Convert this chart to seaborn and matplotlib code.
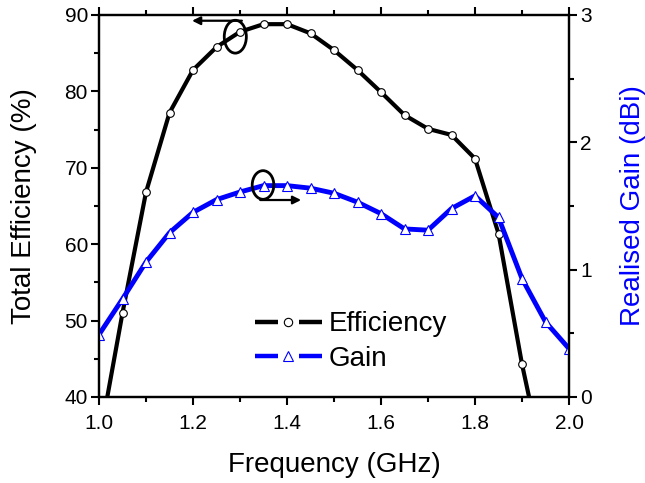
import matplotlib
matplotlib.use("Agg")
import matplotlib.pyplot as plt
from matplotlib.patches import Ellipse
from matplotlib.lines import Line2D
from matplotlib.legend_handler import HandlerBase
from matplotlib.ticker import MultipleLocator
import seaborn as sns
import pandas as pd

freq_eff = [1.00, 1.05, 1.10, 1.15, 1.20, 1.25, 1.30, 1.35, 1.40, 1.45, 1.50,
            1.55, 1.60, 1.65, 1.70, 1.75, 1.80, 1.85, 1.90, 1.95]
efficiency = [34.0, 51.0, 66.8, 77.2, 82.8, 85.8, 87.8, 88.8, 88.8, 87.6, 85.4,
              82.8, 79.9, 76.9, 75.1, 74.3, 71.2, 61.4, 44.3, 30.0]

freq_gain = [1.00, 1.05, 1.10, 1.15, 1.20, 1.25, 1.30, 1.35, 1.40, 1.45, 1.50,
             1.55, 1.60, 1.65, 1.70, 1.75, 1.80, 1.85, 1.90, 1.95, 2.00]
gain = [0.49, 0.77, 1.06, 1.29, 1.45, 1.55, 1.61, 1.66, 1.66, 1.64, 1.60,
        1.53, 1.44, 1.32, 1.31, 1.48, 1.58, 1.41, 0.93, 0.59, 0.38]

x_ticks = [1.0, 1.2, 1.4, 1.6, 1.8, 2.0]
eff_ticks = [40, 50, 60, 70, 80, 90]
gain_ticks = [0, 1, 2, 3]

df_eff = pd.DataFrame({"Frequency": freq_eff, "Efficiency": efficiency})
df_gain = pd.DataFrame({"Frequency": freq_gain, "Gain": gain})

BLUE = "#0000ff"

sns.set_style("ticks")
plt.rcParams["font.family"] = ["Liberation Sans", "DejaVu Sans"]
plt.rcParams["axes.linewidth"] = 1.6
plt.rcParams["axes.edgecolor"] = "black"
plt.rcParams["text.color"] = "black"
plt.rcParams["axes.labelcolor"] = "black"
plt.rcParams["xtick.color"] = "black"
plt.rcParams["ytick.color"] = "black"

fig = plt.figure(figsize=(6.45, 4.83), dpi=100)
ax = fig.add_axes([99 / 645, 1 - 397 / 483, 470 / 645, 382 / 483])
ax2 = ax.twinx()

sns.lineplot(data=df_eff, x="Frequency", y="Efficiency", ax=ax, color="black",
             linewidth=3.0, marker="o", markersize=5.5, markerfacecolor="white",
             markeredgecolor="black", markeredgewidth=0.8, legend=False)
sns.lineplot(data=df_gain, x="Frequency", y="Gain", ax=ax2, color=BLUE,
             linewidth=3.5, marker="^", markersize=7, markerfacecolor="white",
             markeredgecolor=BLUE, markeredgewidth=0.8, legend=False)

ax.set_xlim(1.0, 2.0)
ax.set_ylim(40, 90)
ax2.set_ylim(0, 3)
ax.set_xticks(x_ticks)
ax.set_xticklabels([f"{v:.1f}" for v in x_ticks])
ax.set_yticks(eff_ticks)
ax2.set_yticks(gain_ticks)
ax.xaxis.set_minor_locator(MultipleLocator(0.1))
ax.yaxis.set_minor_locator(MultipleLocator(5))
ax2.yaxis.set_minor_locator(MultipleLocator(0.5))

for a in (ax, ax2):
    for s in a.spines.values():
        s.set_visible(True)
        s.set_linewidth(1.6)
        s.set_edgecolor("black")
ax.tick_params(axis="both", which="major", direction="out", length=6, width=1.5,
               labelsize=15, pad=2)
ax.tick_params(axis="x", which="major", pad=6)
ax.tick_params(axis="both", which="minor", direction="out", length=3.5, width=1.5)
ax.tick_params(axis="x", which="both", top=True, labeltop=False)
ax.tick_params(axis="y", which="both", right=False)
ax2.tick_params(axis="y", which="major", direction="out", length=6, width=1.5,
                labelsize=15, pad=2)
ax2.tick_params(axis="y", which="minor", direction="out", length=3.5, width=1.5)

ax.set_xlabel("Frequency (GHz)", fontsize=20, labelpad=14)
ax.set_ylabel("Total Efficiency (%)", fontsize=20, labelpad=20)
ax2.set_ylabel("Realised Gain (dBi)", fontsize=20, color=BLUE, labelpad=20)

# annotation: efficiency -> left axis
ax.add_patch(Ellipse((1.290, 87.16), 0.047, 4.3, fill=False, edgecolor="black",
                     linewidth=2.0, zorder=5))
ax.annotate("", xy=(1.198, 89.25), xytext=(1.304, 89.25),
            arrowprops=dict(arrowstyle="-|>", color="black", lw=1.6,
                            mutation_scale=12, shrinkA=0, shrinkB=0))
# annotation: gain -> right axis
ax2.add_patch(Ellipse((1.349, 1.665), 0.046, 0.225, fill=False, edgecolor="black",
                      linewidth=2.0, zorder=5))
ax2.annotate("", xy=(1.430, 1.547), xytext=(1.343, 1.547),
             arrowprops=dict(arrowstyle="-|>", color="black", lw=1.6,
                             mutation_scale=12, shrinkA=0, shrinkB=0))


class BrokenLineHandler(HandlerBase):
    """Legend key drawn as: segment - marker - segment (gap around marker)."""

    def create_artists(self, legend, orig_handle, xdescent, ydescent, width,
                       height, fontsize, trans):
        y = height / 2.0 - ydescent
        x0 = -xdescent
        seg = width * 0.34
        color = orig_handle.get_color()
        lw = orig_handle.get_linewidth()
        l1 = Line2D([x0, x0 + seg], [y, y], color=color, linewidth=lw,
                    solid_capstyle="butt")
        l2 = Line2D([x0 + width - seg, x0 + width], [y, y], color=color,
                    linewidth=lw, solid_capstyle="butt")
        m = Line2D([x0 + width / 2.0], [y], linestyle="none",
                   marker=orig_handle.get_marker(),
                   markersize=orig_handle.get_markersize(),
                   markerfacecolor="white", markeredgecolor=color,
                   markeredgewidth=0.8)
        for a in (l1, l2, m):
            a.set_transform(trans)
        return [l1, l2, m]


eff_handle = Line2D([], [], color="black", linewidth=3.2, marker="o", markersize=6)
gain_handle = Line2D([], [], color=BLUE, linewidth=3.2, marker="^", markersize=7)
ax2.legend([eff_handle, gain_handle], ["Efficiency", "Gain"],
           handler_map={eff_handle: BrokenLineHandler(),
                        gain_handle: BrokenLineHandler()},
           loc="center left", bbox_to_anchor=(0.332, 0.145),
           frameon=False, fontsize=20, handlelength=2.4, handletextpad=0.25,
           labelspacing=0.3, borderpad=0, borderaxespad=0)

fig.savefig("out.png", dpi=100)
